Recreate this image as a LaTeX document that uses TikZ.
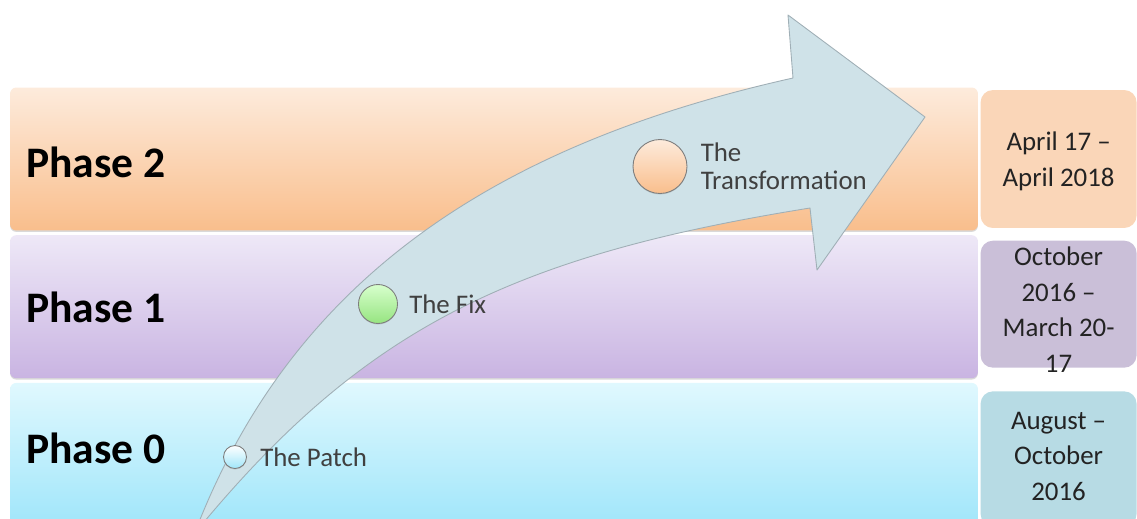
\documentclass[tikz,border=0pt]{standalone}
\usepackage{fontspec}
\setmainfont{Carlito}
\usetikzlibrary{positioning,shadows}

\definecolor{b2top}{RGB}{253,235,220}
\definecolor{b2bot}{RGB}{249,190,140}
\definecolor{b1top}{RGB}{238,232,247}
\definecolor{b1bot}{RGB}{201,180,226}
\definecolor{b0top}{RGB}{224,248,254}
\definecolor{b0bot}{RGB}{160,230,250}
\definecolor{d2fill}{RGB}{250,214,184}
\definecolor{d1fill}{RGB}{202,191,216}
\definecolor{d0fill}{RGB}{183,219,228}
\definecolor{arrowfill}{RGB}{207,226,232}
\definecolor{arrowline}{RGB}{160,175,182}
\definecolor{ringgray}{RGB}{125,125,125}
\definecolor{taggray}{RGB}{64,64,64}
\definecolor{datefg}{RGB}{35,35,35}

\begin{document}
\begin{tikzpicture}[
  x=0.02cm, y=-0.02cm,
  node distance=0.08cm and 0.04cm,
  band/.style={rounded corners=3.5pt, minimum width=19.36cm, minimum height=2.86cm, inner sep=0pt,
    drop shadow={shadow xshift=0pt, shadow yshift=-0.8pt, opacity=0.3}},
  datebox/.style={rounded corners=7pt, minimum width=3.12cm, inner sep=0pt},
  datetext/.style={align=center, inner sep=0pt, text=datefg, font=\fontsize{15.3}{20.4}\selectfont},
  phase/.style={inner sep=0pt, anchor=base west, font=\fontsize{24.8}{29}\selectfont\bfseries},
  milestone/.style={circle, draw=ringgray, line width=0.5pt, inner sep=0pt,
    drop shadow={shadow xshift=0pt, shadow yshift=-0.6pt, opacity=0.25}},
  tag/.style={inner sep=0pt, align=left, text=taggray, font=\fontsize{15.3}{16}\selectfont},
  arrowbody/.style={fill=arrowfill, draw=arrowline, line width=0.5pt, line join=round},
]
\useasboundingbox (0,0) rectangle (1137,518);
\clip (0,0) rectangle (1137,518);

% phase bands, top to bottom
\node[band, top color=b2top, bottom color=b2bot] (p2) at (494,159) {};
\node[band, top color=b1top, bottom color=b1bot, below=of p2] (p1) {};
\node[band, top color=b0top, bottom color=b0bot, below=of p1] (p0) {};

\node[phase] (l2) at (26,177) {Phase 2};
\node[phase] (l1) at (26,322) {Phase 1};
\node[phase] (l0) at (26,463) {Phase 0};

% date boxes
\node[datebox, fill=d2fill, minimum height=2.76cm, right=of p2] (d2) {};
\node[datebox, fill=d1fill, minimum height=2.54cm, right=of p1, yshift=0.05cm] (d1) {};
\node[datebox, fill=d0fill, minimum height=2.7cm, right=of p0, yshift=-0.09cm] (d0) {};

\node[datetext, yshift=-0.04cm] (t2) at (d2) {April 17 –\\April 2018};
\node[datetext, yshift=-0.11cm] (t1) at (d1) {October\\2016 –\\March 20-\\17};
\node[datetext, yshift=0.05cm] (t0) at (d0) {August –\\October\\2016};

% the big curved arrow
\filldraw[arrowbody] (199,522) .. controls (296,280) and (493,145) .. (793,78)
  -- (788,15) -- (925,117) -- (817,270) -- (810,208)
  .. controls (510,256) and (365,330) .. (204,522) -- cycle;

% milestones on the arrow
\node[milestone, minimum size=0.46cm, top color=white, bottom color=b0bot] (m0) at (235,457) {};
\node[milestone, minimum size=0.78cm, top color={rgb,255:red,215;green,255;blue,205}, bottom color={rgb,255:red,150;green,228;blue,128}] (m1) at (378,304) {};
\node[milestone, minimum size=1.08cm, top color=b2top, bottom color=b2bot] (m2) at (660,166.5) {};

\node[tag, right=0.26cm of m0] (n0) {The Patch};
\node[tag, right=0.22cm of m1] (n1) {The Fix};
\node[tag, right=0.26cm of m2] (n2) {The\\Transformation};
\end{tikzpicture}
\end{document}
